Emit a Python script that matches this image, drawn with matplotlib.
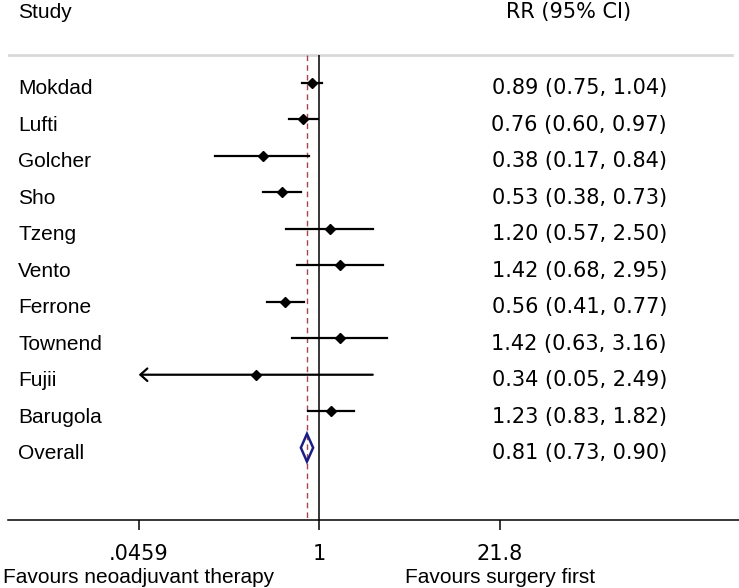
import matplotlib
matplotlib.use("Agg")
import matplotlib.pyplot as plt
from matplotlib.patches import Polygon
from matplotlib.transforms import blended_transform_factory

plt.rcParams['font.family'] = ['Liberation Sans', 'DejaVu Sans']

# Data
studies = ["Mokdad", "Lufti", "Golcher", "Sho", "Tzeng", "Vento",
           "Ferrone", "Townend", "Fujii", "Barugola"]
rr = [0.89, 0.76, 0.38, 0.53, 1.20, 1.42, 0.56, 1.42, 0.34, 1.23]
ci_low = [0.75, 0.60, 0.17, 0.38, 0.57, 0.68, 0.41, 0.63, 0.0455, 0.83]
ci_high = [1.04, 0.97, 0.84, 0.73, 2.50, 2.95, 0.77, 3.16, 2.49, 1.82]
overall = (0.81, 0.73, 0.90)
tick_vals = [0.0459, 1, 21.8]
tick_labels = [".0459", "1", "21.8"]
favours = ["Favours neoadjuvant therapy", "Favours surgery first"]

fig = plt.figure(figsize=(7.39, 5.88), dpi=100)
# axes spans the full width (text columns included), bottom edge is the x axis
ax = fig.add_axes([8 / 739, 68 / 588, 731 / 739, 520 / 588])
ax.set_xscale('log')
ax.set_xlim(0.00493, 1290)
ax.set_ylim(11.98, -2.266)

fs = 15
num_font = 'DejaVu Sans'  # wider digits, closer to the original
rows = list(range(len(studies)))
over_row = len(studies)
top_row = -0.756
clip_lo, clip_hi = tick_vals[0], tick_vals[-1]

# reference lines
ax.axhline(top_row, xmin=0, xmax=0.99, color='#d9d9d9', lw=2)
ax.vlines(1, top_row, 11.98, color='black', lw=1.1, zorder=2)
ax.vlines(overall[0], top_row, 11.98, color='#a8434f', lw=1.0,
          linestyles=(0, (4, 3)), zorder=2)

# study estimates
for i, (est, lo, hi) in enumerate(zip(rr, ci_low, ci_high)):
    if lo < clip_lo:
        ax.annotate('', xy=(clip_lo, i), xytext=(hi, i),
                    arrowprops=dict(arrowstyle='->,head_length=0.5,head_width=0.45',
                                    lw=1.6, color='black', shrinkA=0, shrinkB=0))
    else:
        ax.plot([lo, min(hi, clip_hi)], [i, i], color='black', lw=1.6, zorder=3)
    ax.plot(est, i, marker='D', color='black', markersize=5, zorder=4)

# overall diamond
h = 0.38
est, lo, hi = overall
ax.add_patch(Polygon([(lo, over_row), (est, over_row - h), (hi, over_row),
                      (est, over_row + h)], closed=True, fill=False,
                     edgecolor='#1c1c85', lw=1.8, zorder=4))

# text columns
tr = blended_transform_factory(ax.transAxes, ax.transData)
ax.text(0.0137, -1.786, "Study", transform=tr, fontsize=fs, va='baseline')
ax.text(0.852, -1.786, "RR (95% CI)", transform=tr, fontsize=fs,
        va='baseline', ha='right', family=num_font)
labels = studies + ["Overall"]
ests = rr + [overall[0]]
los = ci_low + [overall[1]]
his = ci_high + [overall[2]]
for i, name in enumerate(labels):
    ax.text(0.0137, i + 0.31, name, transform=tr, fontsize=fs, va='baseline')
    ax.text(0.9015, i + 0.31, f"{ests[i]:.2f} ({los[i]:.2f}, {his[i]:.2f})",
            transform=tr, fontsize=fs, va='baseline', ha='right',
            family=num_font)

# x axis
for s in ['top', 'left', 'right']:
    ax.spines[s].set_visible(False)
ax.spines['bottom'].set_linewidth(1.1)
ax.set_yticks([])
ax.set_xticks(tick_vals, tick_labels)
ax.minorticks_off()
ax.tick_params(axis='x', length=7, width=1.1, pad=10, labelsize=fs)
for lab in ax.get_xticklabels():
    lab.set_family(num_font)

for xv, lab in zip([tick_vals[0], tick_vals[-1]], favours):
    ax.annotate(lab, xy=(xv, 0), xycoords=('data', 'axes fraction'),
                xytext=(0, -63), textcoords='offset pixels',
                ha='center', va='baseline', fontsize=fs)

fig.savefig("out.png", dpi=100)
